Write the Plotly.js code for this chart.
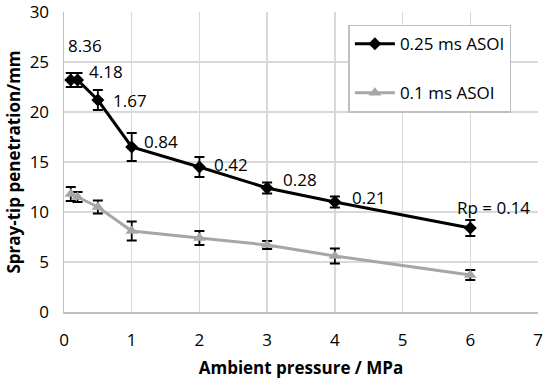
<!DOCTYPE html>
<html><head><meta charset="utf-8">
<script src="https://cdn.plot.ly/plotly-3.0.1.min.js"></script>
<style>html,body{margin:0;padding:0;background:#fff}#c{width:550px;height:380px}</style>
</head><body><div id="c"></div>
<script>
const pressure = [0.1, 0.2, 0.5, 1, 2, 3, 4, 6];
const pen025 = [23.2, 23.2, 21.2, 16.5, 14.5, 12.4, 11.0, 8.4];
const err025 = [0.7, 0.7, 1.0, 1.4, 1.0, 0.55, 0.55, 0.8];
const pen01 = [11.8, 11.5, 10.5, 8.1, 7.4, 6.7, 5.6, 3.7];
const err01 = [0.7, 0.5, 0.65, 0.95, 0.7, 0.4, 0.75, 0.5];
const rpLabels = ['8.36', '4.18', '1.67', '0.84', '0.42', '0.28', '0.21', 'Rp = 0.14'];
const labelShift = [[-5, 35], [9, 9], [13, 0], [10, 6], [13, 3], [14, 9], [15, 5], [23, 21]];

const font = "'Open Sans', 'Liberation Sans', sans-serif";
const traces = [
  {x: pressure, y: pen025, name: '0.25 ms ASOI', mode: 'lines+markers', legendgroup: 'a',
   line: {color: '#000', width: 3}, marker: {symbol: 'diamond', size: 10, color: '#000'},
   error_y: {type: 'data', array: err025, visible: true, color: '#000', thickness: 1.8, width: 5}},
  {x: pressure, y: pen01, name: '0.1 ms ASOI', mode: 'lines+markers', legendgroup: 'b',
   line: {color: '#a6a6a6', width: 3}, marker: {symbol: 'triangle-up', size: 11, color: '#a6a6a6'},
   error_y: {type: 'data', array: err01, visible: true, color: '#000', thickness: 1.8, width: 5}}
];
const annotations = rpLabels.map((t, i) => ({
  x: pressure[i], y: pen025[i], xref: 'x', yref: 'y', text: t, showarrow: false,
  xanchor: i === 7 ? 'center' : 'left', yanchor: 'middle',
  xshift: labelShift[i][0], yshift: labelShift[i][1],
  font: {family: font, size: 17, color: '#000'}
}));
const layout = {
  width: 550, height: 380,
  margin: {l: 64, r: 12, t: 12, b: 68},
  paper_bgcolor: '#fff', plot_bgcolor: '#fff',
  font: {family: font, size: 17, color: '#000'},
  showlegend: true,
  legend: {x: 0.6, y: 0.958, xanchor: 'left', yanchor: 'top', bgcolor: '#fff',
           bordercolor: '#bfbfbf', borderwidth: 1.5, font: {family: font, size: 17},
           tracegroupgap: 24, itemwidth: 40},
  xaxis: {range: [0, 7], dtick: 1, tick0: 0, showgrid: true, gridcolor: '#d9d9d9', gridwidth: 1.5,
          zeroline: false, showline: true, linecolor: '#bfbfbf', linewidth: 1.5, ticks: '',
          ticklabelstandoff: 12, ticklabeloverflow: 'allow', tickfont: {family: font, size: 17},
          title: {text: '<b>Ambient pressure / MPa</b>', font: {family: font, size: 17}, standoff: 12}},
  yaxis: {range: [0, 30], dtick: 5, showgrid: true, gridcolor: '#d9d9d9', gridwidth: 1.5,
          zeroline: false, showline: true, linecolor: '#bfbfbf', linewidth: 1.5, ticks: '',
          ticklabelstandoff: 10, ticklabeloverflow: 'allow', tickfont: {family: font, size: 17},
          title: {text: '<b>Spray-tip penetration/mm</b>', font: {family: font, size: 17}, standoff: 4}},
  annotations: annotations
};
Plotly.newPlot('c', traces, layout, {displayModeBar: false, staticPlot: true});
</script></body></html>
